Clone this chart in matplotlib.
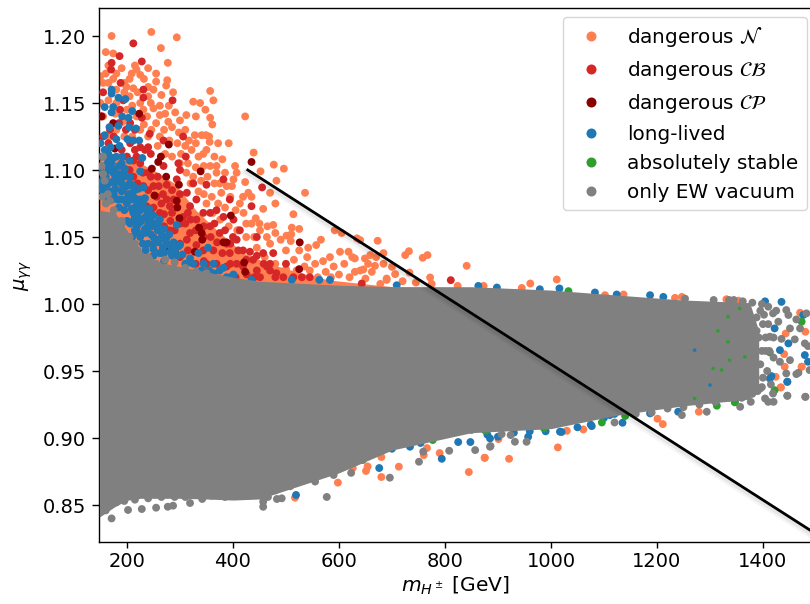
import matplotlib
matplotlib.use("Agg")
import matplotlib.pyplot as plt
import matplotlib.patheffects as pe
from matplotlib.lines import Line2D

# colours of the classes
c_n = "coral"
c_cb = "tab:red"
c_cp = "darkred"
c_ll = "tab:blue"
c_st = "tab:green"
c_ew = "gray"

# dangerous N
n_pts = [(171,1.200),(246,1.203),(294,1.199),(264,1.191),(160,1.188),(174,1.187),(277,1.180),(240,1.176),
(215,1.178),(190,1.176),(209,1.172),(225,1.171),(255,1.172),(276,1.167),(160,1.172),(174,1.168),(255,1.166),
(274,1.163),(357,1.159),(287,1.158),(265,1.156),(199,1.162),(212,1.161),(363,1.152),(325,1.151),(338,1.150),
(348,1.145),(279,1.148),(250,1.146),(231,1.145),(423,1.140),(291,1.143),(312,1.141),(330,1.140),(357,1.139),
(361,1.134),(262,1.141),(278,1.136),(300,1.137),(328,1.126),(341,1.126),(349,1.126),(356,1.121),(372,1.120),
(392,1.120),(317,1.122),(344,1.112),(439,1.113),(477,1.104),(496,1.101),(452,1.099),(404,1.103),(369,1.103),
(357,1.103),(385,1.098),(369,1.098),(407,1.098),(482,1.092),(423,1.091),(401,1.093),(470,1.083),(536,1.083),
(429,1.083),(388,1.088),(375,1.090),(419,1.080),(435,1.080),(413,1.075),(457,1.071),(480,1.075),(514,1.067),
(443,1.064),(425,1.060),(476,1.059),(511,1.057),(525,1.056),(501,1.051),(592,1.055),(605,1.053),(566,1.048),
(557,1.044),(542,1.042),(602,1.039),(583,1.035),(618,1.039),(509,1.047),(464,1.050),(451,1.055),(410,1.055),
(165,1.165),(180,1.16),(195,1.165),(205,1.155),(220,1.158),(240,1.162),(180,1.15),(245,1.15),(262,1.148),
(272,1.142),(210,1.148),(225,1.15),(238,1.14),(255,1.135),(270,1.13),(285,1.132),(298,1.128),(310,1.13),
(262,1.125),(280,1.122),(295,1.12),(310,1.118),(322,1.115),(335,1.11),(302,1.112),(315,1.105),(330,1.102),
(345,1.103),(325,1.095),(340,1.092),(352,1.095),(365,1.09),(378,1.083),(395,1.08),(345,1.082),(360,1.08),
(372,1.075),(385,1.072),(405,1.07),(420,1.068),(398,1.088),(435,1.06),(450,1.06),(465,1.058),(480,1.053),
(490,1.048),(510,1.052),(525,1.04),(540,1.035),(555,1.03),(570,1.032),(590,1.028),(610,1.03),(625,1.035),
(600,1.022),(640,1.025),(655,1.03),(670,1.035),(684,1.038),(500,1.04),(470,1.045),(440,1.05),(545,1.025),
(515,1.033),
(150,1.15),(155,1.165),(150,1.17),(165,1.178),(180,1.172),(195,1.158),(205,1.168),(218,1.175),(232,1.168),
(240,1.155),(250,1.16),(155,1.14),(165,1.152),(178,1.142),(192,1.136),(200,1.145),(218,1.14),(232,1.134),
(246,1.13),(258,1.118),(272,1.112),(285,1.11),(300,1.105),(312,1.098),(320,1.09),(335,1.084),(350,1.075),
(362,1.068),(376,1.063),(392,1.058),(408,1.055),(425,1.05),(445,1.042),(460,1.035),(480,1.03),(500,1.026),
(520,1.025),(535,1.028),(560,1.02),(575,1.024),(585,1.02),(620,1.02),(650,1.019),(690,1.018),(720,1.017),
(745,1.016),(775,1.015),(330,1.12),(350,1.115),(365,1.11),(380,1.108),(355,1.125),(240,1.125),(225,1.13),
(210,1.125),(195,1.125),(180,1.13),(165,1.125),
(673,1.0472),(732,1.0394),(725,1.0365),(767,1.0365),(758,1.0345),(659,1.0365),(649,1.034),(630,1.034),
(841,1.0285),(684,1.030),(668,1.0285),(700,1.0277),(733,1.0235),(772,1.0198),(706,1.0223),(1011,1.0183),
(961,1.0153),(646,1.0258),(662,1.024),(630,1.024),(690,1.019),(678,1.015),(824,1.0135),(873,1.0135),
(945,1.012),(640,1.0477),(634,1.049),(1102,1.0066),(1137,1.0071),(1234,1.0046),(1247,1.0053),(1332,1.0033),
(517,.8555),(598,.8667),(607,.8793),(626,.8776),(651,.8754),(654,.8788),(680,.8858),(680,.8709),(713,.8786),
(760,.8873),(766,.8925),(790,.8888),(845,.8746),(875,.8853),(875,.8852),(921,.8845),(1013,.893),(901,.8992),
(1211,.9104),(1201,.9144),(1279,.9196),(1434,.9378),(1473,.9532),(1061,.9064),(1030,.9054),
(1354,1.0025),(1470,.9935),(1480,.9793),(1443,.978),(1440,.9626),(1473,.9532),(1424,.9457),(1433,.9377),
(1331,1.0035),(1441,.9532)]

# solid part of the orange cloud
n_band_x = [148,200,250,290,330,370,420,470,520,580,650,700]
n_band_top = [1.11,1.11,1.10,1.09,1.07,1.055,1.038,1.03,1.024,1.018,1.015,1.013]

# dangerous CB
cb_pts = [(212,1.1945),(186,1.185),(171,1.180),(170,1.175),(228,1.181),(188,1.165),(155,1.158),(231,1.160),
(231,1.154),(286,1.152),(306,1.125),(243,1.127),(311,1.110),(240,1.117),(234,1.115),(269,1.122),(297,1.105),
(300,1.100),(269,1.103),(382,1.093),(455,1.087),(435,1.073),(394,1.078),(350,1.089),(325,1.090),
(225,1.105),(212,1.095),(231,1.088),(256,1.080),(237,1.073),(275,1.089),(294,1.093),(313,1.083),(281,1.073),
(319,1.073),(331,1.078),(344,1.068),(306,1.065),(262,1.068),(331,1.063),(357,1.068),(369,1.070),(382,1.065),
(357,1.058),(375,1.053),(401,1.063),(319,1.053),(313,1.048),(331,1.044),(344,1.040),(363,1.040),(388,1.045),
(407,1.048),(413,1.055),(394,1.038),(419,1.040),(432,1.039),(407,1.030),(419,1.028),(438,1.033),(457,1.038),
(476,1.038),(445,1.025),(464,1.028),(426,1.022),(451,1.020),(482,1.023),(495,1.020),(514,1.020),(445,1.050),
(388,1.028),(369,1.030),(350,1.030),(152,1.14),(168,1.13),(187,1.145),(193,1.152),(206,1.135),(228,1.139),
(225,1.117),(206,1.12),(212,1.107),(193,1.097),(245,1.112),(258,1.095),(250,1.088),(268,1.082),(285,1.085),
(300,1.06),(290,1.055),(300,1.045),(282,1.062),(270,1.058),(240,1.098),(218,1.11),(811,1.0178),(643,1.0153),
(200,1.11),(215,1.115),(230,1.098),(245,1.095),(260,1.088),(275,1.078),(288,1.078),(300,1.082),(315,1.068),
(330,1.055),(345,1.05),(358,1.05),(370,1.046),(380,1.038),(395,1.03),(410,1.04),(425,1.033),(445,1.036),
(458,1.03),(470,1.025),(480,1.02),(500,1.03),(530,1.02),(545,1.02),(470,1.03),(405,1.02),(440,1.02),(300,1.035),
(315,1.04),(330,1.03),(345,1.024),(280,1.055),(265,1.075),(250,1.072),(240,1.085),(220,1.09),(205,1.1),(190,1.115),
(175,1.125),(165,1.12),(155,1.125),(185,1.135),(198,1.13),(215,1.13),(310,1.06),(320,1.063),(345,1.058),(365,1.06),
(385,1.055),(400,1.05),(395,1.045),(345,1.032),(285,1.068),(270,1.067),(255,1.06),(245,1.07)]

# dangerous CP
cp_pts = [(435,1.106),(223,1.142),(152,1.140),(174,1.135),(279,1.119),(264,1.110),(259,1.106),(247,1.101),
(274,1.095),(339,1.099),(298,1.089),(252,1.081),(294,1.077),(295,1.072),(299,1.064),(396,1.066),(336,1.057),
(341,1.053),(342,1.048),(382,1.046),(388,1.046),(526,1.046),(525,1.026),(421,1.031),(423,1.024),(277,1.043),
(291,1.038),(328,1.039),(149,1.101),(177,1.116)]

# long-lived
ll_pts = [(171,1.160),(171,1.157),(184,1.154),(197,1.153),(158,1.147),(174,1.147),(171,1.143),(210,1.144),
(191,1.140),(203,1.139),(184,1.133),(204,1.132),(217,1.131),(167,1.132),(158,1.126),(180,1.123),(201,1.123),
(212,1.122),(223,1.122),(169,1.117),(186,1.118),(174,1.109),(191,1.110),(229,1.109),(205,1.107),(190,1.105),
(196,1.101),(162,1.104),(168,1.100),(225,1.099),(174,1.098),(186,1.094),(171,1.091),(209,1.089),(193,1.086),
(155,1.085),(231,1.087),(183,1.078),(202,1.080),(225,1.078),(234,1.079),(242,1.071),(225,1.061),(212,1.068),
(238,1.055),(262,1.063),(273,1.048),(250,1.045),(288,1.045),(262,1.038),(294,1.059),(300,1.044),(319,1.034),
(335,1.038),(353,1.042),(319,1.031),(363,1.030),(382,1.027),(401,1.022),(363,1.023),(388,1.020),(435,1.018),
(511,1.018),(563,1.018),(583,1.018),
(178,1.086),(190,1.084),(203,1.082),(215,1.079),(184,1.078),(200,1.075),(209,1.071),(222,1.07),(234,1.071),
(215,1.065),(228,1.063),(244,1.063),(206,1.06),(219,1.058),(234,1.056),(247,1.058),(222,1.053),(234,1.053),
(266,1.051),(275,1.05),(260,1.046),(275,1.045),(288,1.046),(250,1.041),(263,1.038),(282,1.039),(297,1.043),
(178,1.095),(165,1.1),(171,1.105),(184,1.097),(153,1.085),(162,1.089),(178,1.091),(193,1.088),(212,1.088),
(222,1.086),(168,1.084),
(150,1.12),(152,1.11),(158,1.115),(165,1.112),(150,1.1),(160,1.095),(180,1.11),(195,1.095),(205,1.095),(215,1.072),
(225,1.07),(235,1.065),(215,1.055),(240,1.045),(250,1.05),(258,1.055),(268,1.042),(285,1.036),(295,1.036),(305,1.037),
(325,1.03),(345,1.03),(355,1.025),(375,1.025),(395,1.02),(340,1.025),(310,1.03),(270,1.032),(250,1.036),(235,1.04),
(225,1.05),(210,1.05),(200,1.062),(195,1.07),(185,1.072),(172,1.078),
(190,1.09),(200,1.088),(210,1.083),(220,1.075),(230,1.075),(240,1.068),(250,1.066),(255,1.06),(240,1.06),(230,1.045),
(245,1.052),(260,1.058),(270,1.056),(280,1.052),(280,1.044),(290,1.04),(270,1.038),(255,1.048),(175,1.082),(165,1.09),
(155,1.093),(150,1.09),(160,1.08),(175,1.1),(165,1.107),(185,1.103),(195,1.1),(205,1.09),(215,1.085),(190,1.078),
(210,1.078),(220,1.066),(212,1.062),
(1083,1.0086),(1187,1.0066),(1404,1.002),(1435,1.0016),(863,1.0135),(898,1.0123),(1016,1.0116),(1124,1.0071),
(1212,1.0053),(709,1.014),(979,1.011),
(519,.8575),(519,.8687),(676,.8776),(794,.8845),(825,.897),(848,.897),(754,.8963),(734,.8935),(700,.892),
(1135,.9114),(957,.9009),(885,.8997),(1017,.9047),(1077,.9089),(1111,.9171),(1187,.9184),(1240,.9196),
(1446,.942),(1416,.9462),(880,.9025),(900,.901),(930,.904),(960,.905),(990,.905),(1020,.9045),(1050,.908),
(1075,.910),(1100,.915),(1120,.918),
(1476,.9918),(1448,.9706),(1479,.9619),(1485,.9569),(1413,.9444),(1446,.9419),(1422,.9818),(1432,.9656),(1378,.958)]

# absolutely stable
st_pts = [(645,.8836),(551,.8724),(672,.8896),(878,.9055),(777,.8985),(875,.9059),(987,.9072),(1096,.9116),
(1140,.9164),(1149,.9196),(1347,.9266),(1313,.9241),(1033,1.0096),(1473,.9868),(1413,.9639),(1347,.9270),
(1422,.9357),(1366,.9606)]

# only EW vacuum, loose points
ew_pts = [(171,.840),(202,.8463),(228,.847),(255,.848),(277,.8487),(287,.8495),(319,.8515),(342,.8545),(457,.8487),
(457,.8525),(466,.856),(483,.8545),(492,.855),(577,.856),(508,.864),(555,.8675),(590,.8724),(623,.874),
(696,.8704),(751,.8823),(759,.8898),(808,.8905),(857,.891),(885,.8935),(886,.894),(932,.8972),(954,.8972),
(907,.9029),(924,.9022),(1120,.9116),(1247,.9171),(1294,.9196),(1410,.927),(1420,.927),(1446,.9316),(1480,.9308),
(1377,.927),(1357,.9233),(1467,.9487),
(1413,.9756),(1419,.993),(1444,.9955),(1448,.9918),(1429,.9868),(1463,.9885),(1482,.993),(1451,.9818),(1470,.9818),
(1435,.974),(1460,.9736),(1479,.9706),(1485,.9686),(1432,.9569),(1451,.9581),(1463,.9477),(1444,.9482),(1488,.9507),
(1446,.9315),(1480,.9307),(1419,.9332),(1404,.9295),(1395,.995),(1400,.985),(1405,.965),(1395,.955),(1400,.945),
(1390,.935),(1408,.95),(1420,.96),(1253,1.004),(1307,1.003),(1336,1.003),
(155,1.11),(158,1.092),(164,1.082),(153,1.08),(168,1.077),(155,1.097),(152,1.103),(160,1.075),(190,1.062),(215,1.045),(243,1.033),
(160,.846),(180,.852),(195,.853),(215,.854),(240,.855),(265,.856),(290,.856),(310,.856),(335,.858),(360,.857),(385,.856),
(410,.858),(430,.858),(455,.86),(480,.861),(500,.864),(520,.869),(540,.873),(560,.876),(580,.88),(600,.883),(620,.886),
(640,.888),(660,.891),(680,.894),(700,.895),(720,.898),(740,.899),(760,.901),(790,.905),(820,.906),(850,.906),
(1160,.918),(1190,.919),(1220,.922),(1250,.923),(1280,.925),(1310,.927),(1335,.93),(1360,.93),(1380,.933),(1395,.937),
(175,1.07),(190,1.06),(205,1.05),(220,1.04),(240,1.035),(255,1.03),(272,1.033),(290,1.031),(310,1.027),(330,1.024),(350,1.023),
(1345,1.003),(1362,1.002),(1380,1.001),(1398,1.0),(1410,.998),(1425,.995),(1392,.975),(1398,.965),(1410,.985),(1420,.975),
(1388,.99),(1388,.98),(1385,.97),(1385,.96),(1385,.95),(1385,.94),(1402,.992),(1405,.975),(1412,.965),(1398,.938),(1415,.94),(1375,.935)]

# small specks showing through the grey on the right
speck_x = [1315,1334,1356,1334,1271,1337,1306,1366,1322,1300,1271]
speck_y = [.98,.9905,.9967,.9718,.9656,.958,.952,.9606,.9507,.9395,.9295]
speck_c = [c_st,c_st,c_st,c_st,c_ll,c_st,c_st,c_st,c_st,c_ll,c_st]

# envelope of the solid grey area
ew_x = [148,178,200,225,247,275,300,350,400,450,500,600,700,850,1000,1124,1249,1375,1392]
ew_top = [1.07,1.068,1.055,1.04,1.032,1.03,1.028,1.024,1.02,1.017,1.016,1.014,1.013,1.0129,1.0104,1.0067,1.003,1.001,.98]
ew_bot = [.841,.849,.8535,.855,.855,.855,.855,.8545,.8537,.8545,.861,.874,.891,.904,.907,.917,.924,.929,.94]

line_x = [428,1493]
line_y = [1.10,0.8302]

tick_x = [200,400,600,800,1000,1200,1400]
tick_y = [0.85,0.90,0.95,1.00,1.05,1.10,1.15,1.20]

plt.rcParams['font.size'] = 14

fig = plt.figure(figsize=(8.1,6.04),dpi=100)
ax = fig.add_axes([99.4/810,62/604,713/810,534/604])

def dots(pts,col,order):
    x = [p[0] for p in pts]
    y = [p[1] for p in pts]
    ax.scatter(x,y,s=32,color=col,edgecolors='none',zorder=order)

ax.fill_between(n_band_x,[1.0]*len(n_band_x),n_band_top,color=c_n,lw=0,zorder=1)
dots(n_pts,c_n,2)
dots(cb_pts,c_cb,3)
dots(cp_pts,c_cp,4)
dots(ll_pts,c_ll,5)
dots(st_pts,c_st,6)
ax.fill_between(ew_x,ew_bot,ew_top,color=c_ew,lw=0,zorder=7)
dots(ew_pts,c_ew,7)
ax.scatter(speck_x,speck_y,s=7,c=speck_c,edgecolors='none',zorder=8)

ax.plot(line_x,line_y,color='k',lw=2,zorder=10,
        path_effects=[pe.SimpleLineShadow(offset=(-1.5,-2),shadow_color='k',alpha=0.04,linewidth=5),
                      pe.SimpleLineShadow(offset=(-1,-1.2),shadow_color='k',alpha=0.06,linewidth=3.5),
                      pe.Normal()])

ax.set_xlim(148,1493.3)
ax.set_ylim(0.8224,1.2209)
ax.set_xticks(tick_x)
ax.set_yticks(tick_y)
ax.set_yticklabels(["%.2f"%t for t in tick_y])
ax.tick_params(axis='y',length=5,width=1.0,pad=4.5)
ax.tick_params(axis='x',length=4.5,width=1.0,pad=2.5)
for s in ax.spines.values():
    s.set_linewidth(1.0)
ax.set_xlabel(r"$m_{H^\pm}$ [GeV]",labelpad=3,fontsize=14.6)
ax.set_ylabel(r"$\mu_{\gamma\gamma}$",labelpad=6)

handles = []
for col,lab in [(c_n,r"dangerous $\mathcal{N}$"),(c_cb,r"dangerous $\mathcal{CB}$"),
                (c_cp,r"dangerous $\mathcal{CP}$"),(c_ll,"long-lived"),
                (c_st,"absolutely stable"),(c_ew,"only EW vacuum")]:
    handles.append(Line2D([],[],ls='none',marker='o',ms=7.2,mew=0,color=col,label=lab))
ax.legend(handles=handles,loc='upper right',bbox_to_anchor=(806.5/810,1-17/604),
          bbox_transform=fig.transFigure,borderaxespad=0,framealpha=0.8,fontsize=14.4,
          handletextpad=0.8,borderpad=0.4,labelspacing=0.5).set_zorder(20)

fig.savefig("out.png",dpi=100)
